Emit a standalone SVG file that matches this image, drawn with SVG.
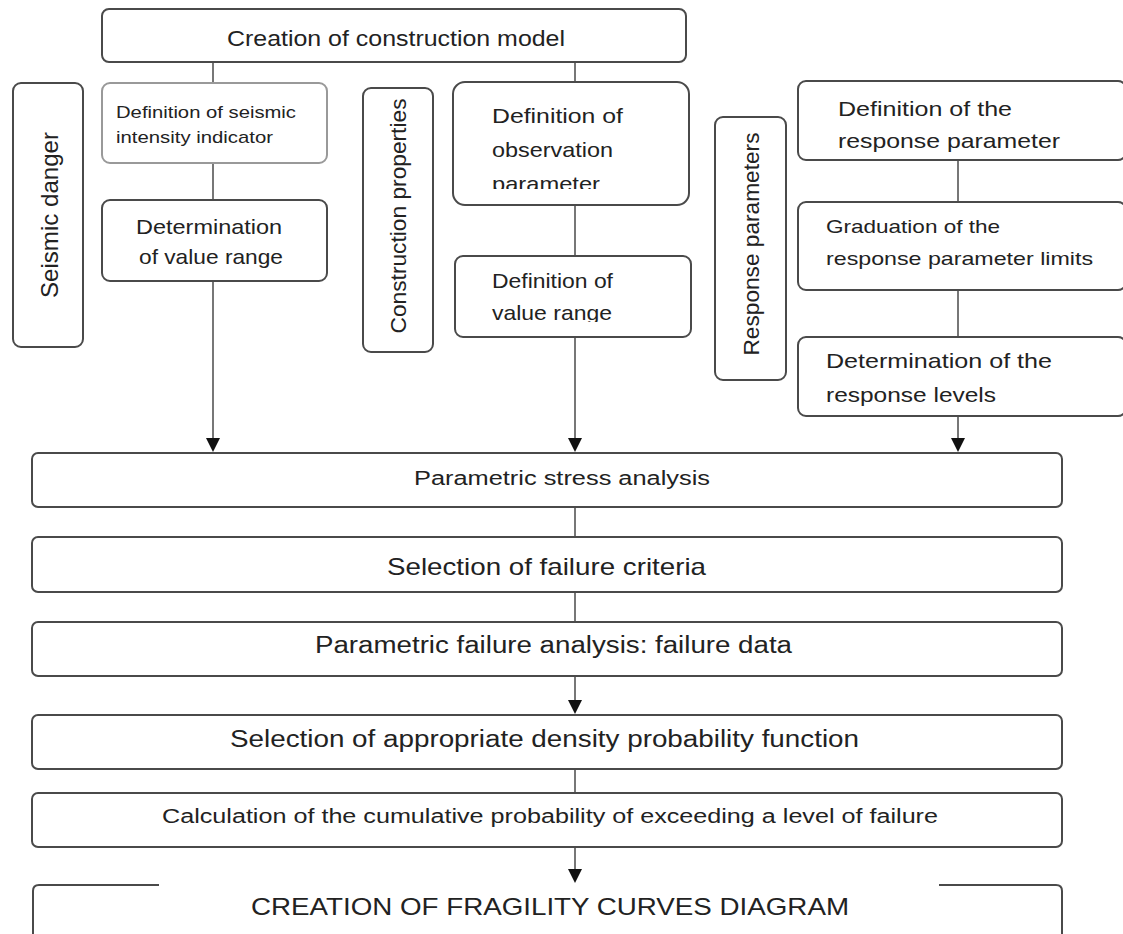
<svg xmlns="http://www.w3.org/2000/svg" width="1123" height="934" viewBox="0 0 1123 934">
  <defs>
    <style>
      .box { fill: #ffffff; stroke: #4a4a4a; stroke-width: 2; }
      .lt { stroke: #999999; }
      .t { font-family: "Liberation Sans", Arial, sans-serif; fill: #222222; }
      .conn { stroke: #555555; stroke-width: 1.6; fill: none; }
    </style>
    <marker id="arr" viewBox="0 0 10 14" refX="5" refY="14" markerWidth="10" markerHeight="14" markerUnits="userSpaceOnUse" orient="auto-start-reverse">
      <path d="M0,0 L10,0 L5,14 Z" fill="#111111" transform="rotate(-90 5 7) translate(-2 2)"/>
    </marker>
    <clipPath id="clipObs"><rect x="460" y="90" width="220" height="99"/></clipPath>
    <clipPath id="clipVal"><rect x="460" y="262" width="220" height="60"/></clipPath>
  </defs>

  <g id="connectors">
    <line class="conn" x1="213" y1="62" x2="213" y2="83"/>
    <line class="conn" x1="213" y1="163" x2="213" y2="200"/>
    <line class="conn" x1="213" y1="281" x2="213" y2="440"/>
    <path d="M206,438 L220,438 L213,452 Z" fill="#111"/>
    <line class="conn" x1="575" y1="62" x2="575" y2="82"/>
    <line class="conn" x1="575" y1="205" x2="575" y2="256"/>
    <line class="conn" x1="575" y1="337" x2="575" y2="440"/>
    <path d="M568,438 L582,438 L575,452 Z" fill="#111"/>
    <line class="conn" x1="958" y1="160" x2="958" y2="202"/>
    <line class="conn" x1="958" y1="290" x2="958" y2="337"/>
    <line class="conn" x1="958" y1="416" x2="958" y2="440"/>
    <path d="M951,438 L965,438 L958,452 Z" fill="#111"/>
    <line class="conn" x1="575" y1="507" x2="575" y2="537"/>
    <line class="conn" x1="575" y1="592" x2="575" y2="622"/>
    <line class="conn" x1="575" y1="676" x2="575" y2="702"/>
    <path d="M568,700 L582,700 L575,714 Z" fill="#111"/>
    <line class="conn" x1="575" y1="769" x2="575" y2="793"/>
    <line class="conn" x1="575" y1="847" x2="575" y2="871"/>
    <path d="M568,869 L582,869 L575,883 Z" fill="#111"/>
  </g>

  <g id="node-top">
    <rect class="box" x="102" y="9" width="584" height="53" rx="7"/>
    <text class="t" x="227" y="46" font-size="22" textLength="338" lengthAdjust="spacingAndGlyphs">Creation of construction model</text>
  </g>

  <g id="node-seismic-danger">
    <rect class="box" x="13" y="83" width="70" height="264" rx="8"/>
    <text class="t" x="58" y="215" font-size="24" text-anchor="middle" textLength="166" lengthAdjust="spacingAndGlyphs" transform="rotate(-90 58 215)">Seismic danger</text>
  </g>

  <g id="node-intensity">
    <rect class="box lt" x="102" y="83" width="225" height="80" rx="8"/>
    <text class="t" font-size="17">
      <tspan x="116" y="118" textLength="180" lengthAdjust="spacingAndGlyphs">Definition of seismic</tspan>
      <tspan x="116" y="143" textLength="157" lengthAdjust="spacingAndGlyphs">intensity indicator</tspan>
    </text>
  </g>

  <g id="node-det-range">
    <rect class="box" x="102" y="200" width="225" height="81" rx="8"/>
    <text class="t" font-size="21" text-anchor="middle">
      <tspan x="212" y="234" textLength="146" lengthAdjust="spacingAndGlyphs">Determination</tspan>
      <tspan x="211" y="264" textLength="144" lengthAdjust="spacingAndGlyphs">of value range</tspan>
    </text>
  </g>

  <g id="node-construction-properties">
    <rect class="box" x="363" y="88" width="70" height="264" rx="8"/>
    <text class="t" x="406" y="216" font-size="22" text-anchor="middle" textLength="235" lengthAdjust="spacingAndGlyphs" transform="rotate(-90 406 216)">Construction properties</text>
  </g>

  <g id="node-observation">
    <rect class="box" x="453" y="82" width="236" height="123" rx="12"/>
    <text class="t" font-size="21" clip-path="url(#clipObs)">
      <tspan x="492" y="123" textLength="131" lengthAdjust="spacingAndGlyphs">Definition  of</tspan>
      <tspan x="492" y="157" textLength="121" lengthAdjust="spacingAndGlyphs">observation</tspan>
      <tspan x="492" y="191" textLength="108" lengthAdjust="spacingAndGlyphs">parameter</tspan>
    </text>
  </g>

  <g id="node-def-range">
    <rect class="box" x="455" y="256" width="236" height="81" rx="8"/>
    <text class="t" font-size="21" clip-path="url(#clipVal)">
      <tspan x="492" y="288" textLength="121" lengthAdjust="spacingAndGlyphs">Definition of</tspan>
      <tspan x="492" y="320" textLength="120" lengthAdjust="spacingAndGlyphs">value range</tspan>
    </text>
  </g>

  <g id="node-response-parameters">
    <rect class="box" x="715" y="117" width="71" height="263" rx="8"/>
    <text class="t" x="759" y="244" font-size="22" text-anchor="middle" textLength="223" lengthAdjust="spacingAndGlyphs" transform="rotate(-90 759 244)">Response parameters</text>
  </g>

  <g id="node-def-response">
    <rect class="box" x="798" y="81" width="328" height="79" rx="8"/>
    <text class="t" font-size="21">
      <tspan x="838" y="116" textLength="174" lengthAdjust="spacingAndGlyphs">Definition  of the</tspan>
      <tspan x="838" y="148" textLength="222" lengthAdjust="spacingAndGlyphs">response  parameter</tspan>
    </text>
  </g>

  <g id="node-graduation">
    <rect class="box" x="798" y="202" width="328" height="88" rx="8"/>
    <text class="t" font-size="19">
      <tspan x="826" y="233" textLength="174" lengthAdjust="spacingAndGlyphs">Graduation of the</tspan>
      <tspan x="826" y="265" textLength="267" lengthAdjust="spacingAndGlyphs">response parameter limits</tspan>
    </text>
  </g>

  <g id="node-det-levels">
    <rect class="box" x="798" y="337" width="328" height="79" rx="8"/>
    <text class="t" font-size="21">
      <tspan x="826" y="368" textLength="226" lengthAdjust="spacingAndGlyphs">Determination  of the</tspan>
      <tspan x="826" y="402" textLength="170" lengthAdjust="spacingAndGlyphs">response  levels</tspan>
    </text>
  </g>

  <g id="node-stress">
    <rect class="box" x="32" y="453" width="1030" height="54" rx="6"/>
    <text class="t" x="414" y="485" font-size="20" textLength="296" lengthAdjust="spacingAndGlyphs">Parametric stress analysis</text>
  </g>

  <g id="node-criteria">
    <rect class="box" x="32" y="537" width="1030" height="55" rx="6"/>
    <text class="t" x="387" y="575" font-size="24" textLength="319" lengthAdjust="spacingAndGlyphs">Selection of failure criteria</text>
  </g>

  <g id="node-failure-data">
    <rect class="box" x="32" y="622" width="1030" height="54" rx="6"/>
    <text class="t" x="315" y="653" font-size="23" textLength="477" lengthAdjust="spacingAndGlyphs">Parametric failure analysis: failure data</text>
  </g>

  <g id="node-density">
    <rect class="box" x="32" y="715" width="1030" height="54" rx="6"/>
    <text class="t" x="230" y="747" font-size="23" textLength="629" lengthAdjust="spacingAndGlyphs">Selection of appropriate density probability function</text>
  </g>

  <g id="node-cumulative">
    <rect class="box" x="32" y="793" width="1030" height="54" rx="6"/>
    <text class="t" x="162" y="823" font-size="20" textLength="776" lengthAdjust="spacingAndGlyphs">Calculation  of the cumulative  probability  of  exceeding  a level  of failure</text>
  </g>

  <g id="node-fragility">
    <path class="box" d="M33,940 L33,891 Q33,885 39,885 L159,885 M939,885 L1056,885 Q1062,885 1062,891 L1062,940" fill="none"/>
    <text class="t" x="251" y="915" font-size="24" textLength="598" lengthAdjust="spacingAndGlyphs">CREATION OF FRAGILITY  CURVES DIAGRAM</text>
  </g>
</svg>
